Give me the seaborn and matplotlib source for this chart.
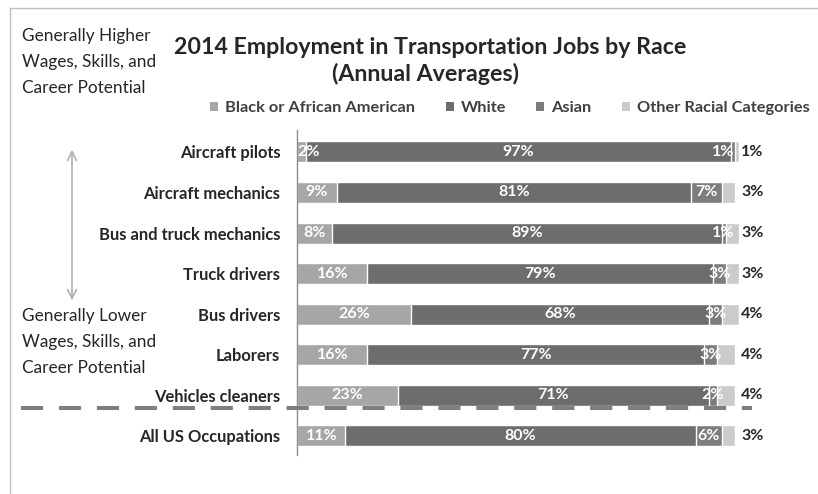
import matplotlib
matplotlib.use("Agg")
import matplotlib.pyplot as plt
import seaborn as sns
import pandas as pd
from matplotlib.lines import Line2D
from matplotlib.patches import Patch, FancyArrowPatch

# Share of employment by race (percent), 2014 annual averages
occupations = [
    "Aircraft pilots",
    "Aircraft mechanics",
    "Bus and truck mechanics",
    "Truck drivers",
    "Bus drivers",
    "Laborers",
    "Vehicles cleaners",
    "All US Occupations",
]
black = [2, 9, 8, 16, 26, 16, 23, 11]
white = [97, 81, 89, 79, 68, 77, 71, 80]
asian = [1, 7, 1, 3, 3, 3, 2, 6]
other = [1, 3, 3, 3, 4, 4, 4, 3]

series_names = ["Black or African American", "White", "Asian", "Other Racial Categories"]
series_colors = ["#a6a6a6", "#6d6d6d", "#7d7d7d", "#cbcbcb"]

sns.set_theme(style="white")
plt.rcParams["font.family"] = ["Lato", "DejaVu Sans"]

df = pd.DataFrame({
    "occupation": occupations,
    series_names[0]: black,
    series_names[1]: white,
    series_names[2]: asian,
    series_names[3]: other,
})
cum = df[series_names].cumsum(axis=1)
cum["occupation"] = df["occupation"]

W, H = 818, 494
fig = plt.figure(figsize=(W / 100, H / 100), dpi=100)
px_per_pct = 4.376
ax_left, ax_right = 297.3, 800
ax_top, ax_bottom = 130, 455
ax = fig.add_axes([ax_left / W, 1 - ax_bottom / H,
                   (ax_right - ax_left) / W, (ax_bottom - ax_top) / H])

# Stacked bars: draw cumulative totals from the outermost segment inward
for name, color in reversed(list(zip(series_names, series_colors))):
    sns.barplot(data=cum, x=name, y="occupation", orient="h", color=color,
                saturation=1, width=0.52, edgecolor="white", linewidth=1.0, ax=ax)

# Segment labels, kept inside the 0-100% span of the plot
for j in range(len(occupations)):
    start = 0
    for k, name in enumerate(series_names):
        v = df.loc[j, name]
        if k < 3:
            xc = min(max(start + v / 2, 2.6), 97.3)
            ax.text(xc, j, f"{v}%", ha="center", va="center",
                    color="white", fontsize=11.5, fontweight="bold", zorder=5)
        start += v
    ax.text(cum[series_names[-1]].max() + 0.4, j, f"{df.loc[j, series_names[-1]]}%",
            ha="left", va="center", color="#262626", fontsize=11.5,
            fontweight="bold", zorder=5)

ax.set_xlim(0, (ax_right - ax_left) / px_per_pct)
ax.set_ylim(7.47, -0.54)
ax.set_xlabel("")
ax.set_ylabel("")
ax.set_xticks([])
ax.tick_params(axis="y", length=0, pad=12.2)
for lab in ax.get_yticklabels():
    lab.set_fontweight("bold")
    lab.set_fontsize(11.9)
    lab.set_color("#262626")
for s in ["top", "right", "bottom"]:
    ax.spines[s].set_visible(False)
ax.spines["left"].set_color("#8c8c8c")
ax.spines["left"].set_linewidth(1.0)

# Title
fig.text(430 / W, 1 - 47 / H, "2014 Employment in Transportation Jobs by Race",
         ha="center", va="center", fontsize=16.7, fontweight="bold", color="#262626")
fig.text(426 / W, 1 - 74 / H, "(Annual Averages)",
         ha="center", va="center", fontsize=16.7, fontweight="bold", color="#262626")

# Legend
handles = [Patch(facecolor=c, edgecolor="none") for c in series_colors]
fig.legend(handles, series_names, loc="center", bbox_to_anchor=(510 / W, 1 - 108 / H),
           ncol=4, frameon=False, handlelength=0.49, handleheight=0.49,
           handletextpad=0.43, columnspacing=1.85,
           prop={"weight": "bold", "size": 11.8}, labelcolor="#404040")

# Side notes and double-headed arrow
fig.text(22 / W, 1 - 62 / H, "Generally Higher\nWages, Skills, and\nCareer Potential",
         ha="left", va="center", fontsize=12.4, color="#262626", linespacing=1.8)
fig.text(22 / W, 1 - 342 / H, "Generally Lower\nWages, Skills, and\nCareer Potential",
         ha="left", va="center", fontsize=12.4, color="#262626", linespacing=1.8)
fig.add_artist(FancyArrowPatch((72 / W, 1 - 147 / H), (72 / W, 1 - 303 / H),
                               transform=fig.transFigure, arrowstyle="<->",
                               mutation_scale=16, color="#b0b0b0", lw=1.2))

# Separator between transportation jobs and all occupations
fig.add_artist(Line2D([21 / W, 752 / W], [1 - 407.5 / H] * 2, transform=fig.transFigure,
                      color="#7f7f7f", lw=2.9, linestyle=(0, (5.5, 3.92)),
                      dash_capstyle="butt"))

# Frame lines
fig.add_artist(Line2D([10 / W, 1], [1 - 8 / H] * 2, transform=fig.transFigure,
                      color="#bfbfbf", lw=1))
fig.add_artist(Line2D([10 / W, 10 / W], [1 - 8 / H, 0], transform=fig.transFigure,
                      color="#bfbfbf", lw=1))

fig.savefig("out.png", dpi=100)
